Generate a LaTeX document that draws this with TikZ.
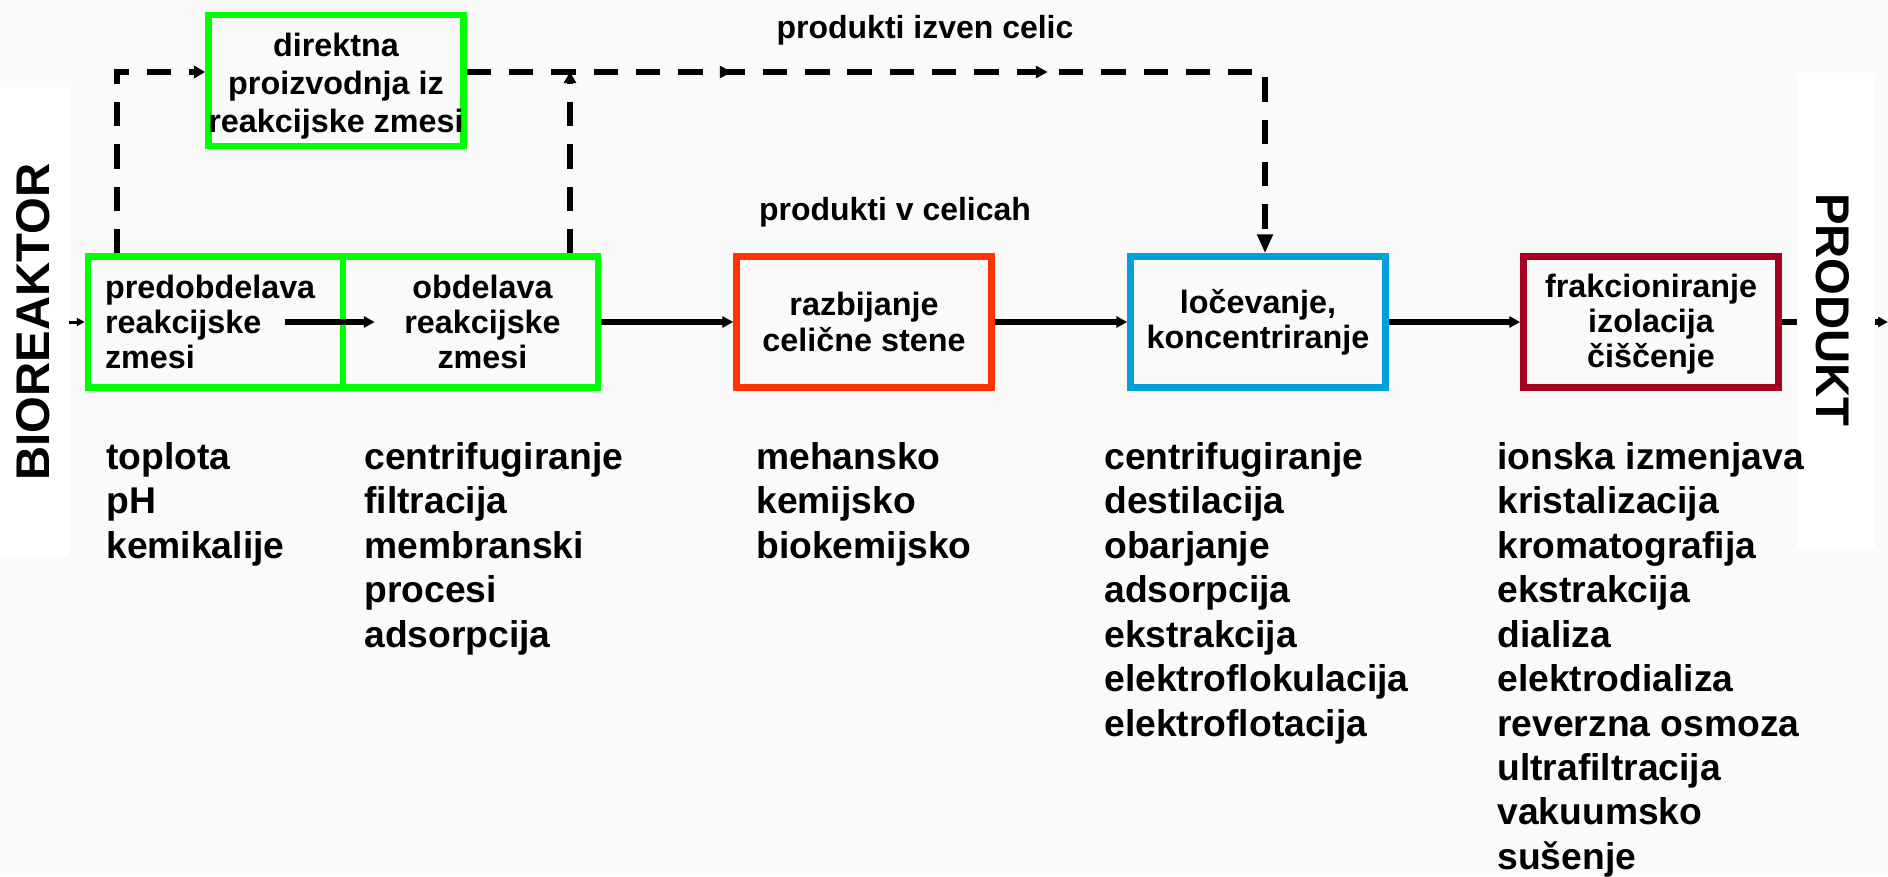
\documentclass[tikz,border=0pt]{standalone}
\usepackage{fontspec}
\setmainfont{Liberation Sans}
\usetikzlibrary{arrows.meta,decorations.markings}

\definecolor{boxgreen}{RGB}{0,255,0}
\definecolor{boxorange}{RGB}{255,51,0}
\definecolor{boxblue}{RGB}{0,160,220}
\definecolor{boxred}{RGB}{165,0,33}
\definecolor{paper}{RGB}{250,250,250}

\tikzset{
  >={Triangle[length=0.22cm,width=0.22cm]},
  stagebox/.style={draw, line width=0.13cm, minimum width=5.1cm, minimum height=2.62cm,
    inner sep=0pt, font=\bfseries\fontsize{18.4}{20}\selectfont},
  flowarrow/.style={line width=0.11cm, ->},
  dashflow/.style={line width=0.13cm, dash pattern=on 0.486cm off 0.36cm},
  methodlist/.style={anchor=north west, inner sep=0pt, align=left,
    font=\bfseries\fontsize{21.2}{25.3}\selectfont},
  sidelabel/.style={inner sep=0pt, font=\bfseries\fontsize{26.9}{30}\selectfont},
  flowlabel/.style={inner sep=0pt, font=\bfseries\fontsize{18.2}{20}\selectfont},
}

\begin{document}
\begin{tikzpicture}[x=0.02cm,y=-0.02cm]

\useasboundingbox (0,0) rectangle (1888,876);
\fill[paper] (0,0) rectangle (1888,876);

        % process stages
        \node[stagebox,draw=boxgreen,text width=4.42cm,align=left] (pre) at (215.5,322) {predobdelava\\reakcijske\\zmesi};
        \node[stagebox,draw=boxgreen,align=center] (obd) at (470.5,322) {\hspace*{0.48cm}obdelava\\\hspace*{0.48cm}reakcijske\\\hspace*{0.48cm}zmesi};
        \node[stagebox,draw=boxorange,align=center] (razb) at (864,322) {razbijanje\\celične stene};
        \node[stagebox,draw=boxblue,align=center] (loc) at (1258,322) {ločevanje,\\koncentriranje};
        \node[stagebox,draw=boxred,align=center] (frak) at (1651,322) {\rule{0pt}{16pt}frakcioniranje\\izolacija\\čiščenje};
        \node[stagebox,draw=boxgreen,align=center,font=\bfseries\fontsize{18.4}{21.5}\selectfont] (direkt) at (336,80.5) {\rule{0pt}{20pt}direktna\\proizvodnja iz\\reakcijske zmesi};

        \node[flowlabel] (izven_label) at (925,30) {produkti izven celic};
        \node[flowlabel] (celice_label) at (895,212) {produkti v celicah};

        % solid flow
        \coordinate (in) at (0,322);
        \coordinate (out) at (1888,322);
        \draw[line width=0.06cm,-{Triangle[length=0.16cm,width=0.16cm]}] (in) -- (pre);
        \draw[flowarrow] ([xshift=1.4cm]pre.center) -- ([xshift=0.7cm]obd.west);
        \draw[flowarrow] (obd) -- (razb);
        \draw[flowarrow] (razb) -- (loc);
        \draw[flowarrow] (loc) -- (frak);

        % dashed flow
        \coordinate (tl) at (117,72);
        \coordinate (obd_top) at (570,72);
        \coordinate (tr) at (1265,72);
        \draw[dashflow,-{Triangle[length=0.22cm,width=0.24cm]}] (tl |- pre.north) -- (tl) -- (direkt.west |- tl);
        \draw[dashflow,-{Triangle[length=0.22cm,width=0.24cm]}] (obd_top |- obd.north) -- (obd_top);
        \draw[dashflow,-{Triangle[length=0.38cm,width=0.3cm]},
              postaction={decorate},
              decoration={markings,
                mark=at position 5.3cm with {\arrow{Triangle[length=0.24cm,width=0.24cm]}},
                mark=at position 11.62cm with {\arrow{Triangle[length=0.24cm,width=0.24cm]}}}]
              (direkt.east |- tl) -- (tr) -- (tr |- loc.north);
        \draw[dashflow,-{Triangle[length=0.2cm,width=0.2cm]}] (frak) -- (out);

        % side labels
        \fill[white] (0,87) rectangle (69,556);
        \fill[white] (1797,73) rectangle (1875,548);
        \node[sidelabel,rotate=90] (bio) at (33,322) {BIOREAKTOR};
        \node[sidelabel,rotate=-90] (prod) at (1833,310) {PRODUKT};

        % methods
        \node[methodlist] (list_pre) at (106,442) {toplota\\pH\\kemikalije};
        \node[methodlist] (list_obd) at (364,442) {centrifugiranje\\filtracija\\membranski\\procesi\\adsorpcija};
        \node[methodlist] (list_razb) at (756,442) {mehansko\\kemijsko\\biokemijsko};
        \node[methodlist] (list_loc) at (1104,442) {centrifugiranje\\destilacija\\obarjanje\\adsorpcija\\ekstrakcija\\elektroflokulacija\\elektroflotacija};
        \node[methodlist] (list_frak) at (1497,442) {ionska izmenjava\\kristalizacija\\kromatografija\\ekstrakcija\\dializa\\elektrodializa\\reverzna osmoza\\ultrafiltracija\\vakuumsko\\sušenje};

\end{tikzpicture}
\end{document}
